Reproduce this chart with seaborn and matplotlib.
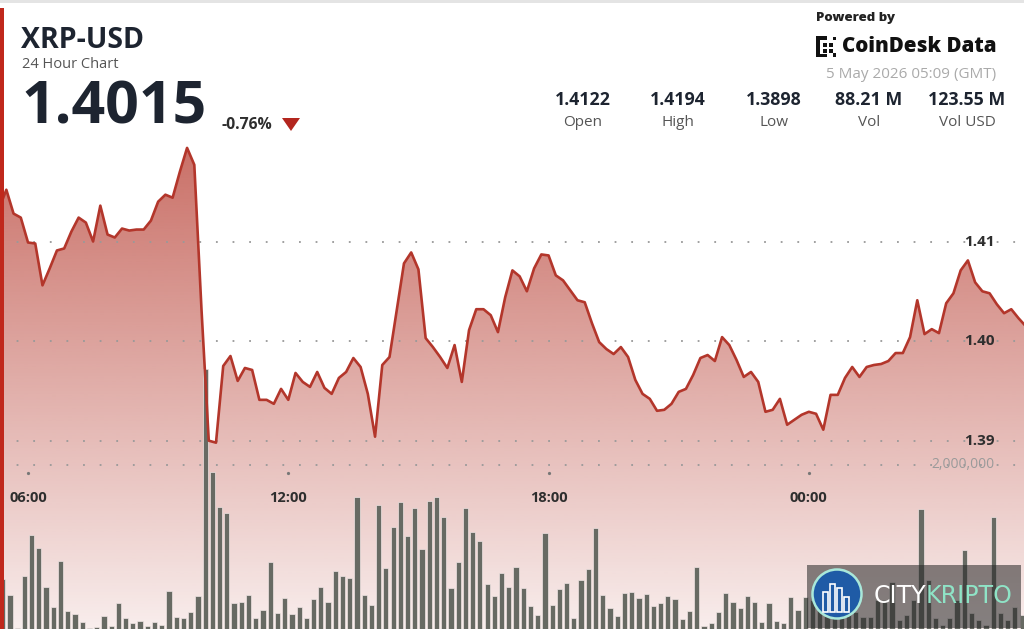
import numpy as np
import pandas as pd
import matplotlib
matplotlib.use("Agg")
import matplotlib.pyplot as plt
import seaborn as sns
from matplotlib.colors import to_rgb
from matplotlib.patches import Rectangle, Ellipse, Polygon, FancyBboxPatch
from matplotlib.transforms import blended_transform_factory

# ── DATA ──────────────────────────────────────────────────────────────────────
# XRP-USD, one sample every 10 minutes, first sample at 05:20
price = [
    1.4133, 1.4152, 1.4128, 1.4124, 1.4099, 1.4098, 1.4056, 1.4073, 1.4091, 1.4093,
    1.4110, 1.4124, 1.4119, 1.4100, 1.4136, 1.4107, 1.4104, 1.4113, 1.4111, 1.4112,
    1.4112, 1.4121, 1.4140, 1.4147, 1.4144, 1.4170, 1.4194, 1.4177, 1.4031, 1.3900,
    1.3898, 1.3975, 1.3985, 1.3960, 1.3973, 1.3971, 1.3941, 1.3941, 1.3937, 1.3952,
    1.3941, 1.3968, 1.3959, 1.3954, 1.3969, 1.3953, 1.3947, 1.3963, 1.3969, 1.3983,
    1.3974, 1.3947, 1.3904, 1.3976, 1.3984, 1.4031, 1.4078, 1.4089, 1.4072, 1.4003,
    1.3994, 1.3984, 1.3973, 1.3996, 1.3959, 1.4011, 1.4032, 1.4032, 1.4026, 1.4009,
    1.4044, 1.4071, 1.4065, 1.4050, 1.4073, 1.4087, 1.4086, 1.4066, 1.4061, 1.4051,
    1.4041, 1.4039, 1.4018, 1.3999, 1.3992, 1.3987, 1.3994, 1.3984, 1.3961, 1.3947,
    1.3942, 1.3930, 1.3931, 1.3937, 1.3949, 1.3952, 1.3966, 1.3983, 1.3986, 1.3980,
    1.4004, 1.3996, 1.3981, 1.3964, 1.3969, 1.3959, 1.3929, 1.3931, 1.3942, 1.3916,
    1.3921, 1.3926, 1.3929, 1.3927, 1.3911, 1.3946, 1.3946, 1.3963, 1.3974, 1.3964,
    1.3974, 1.3976, 1.3977, 1.3980, 1.3988, 1.3988, 1.4004, 1.4041, 1.4007, 1.4012,
    1.4008, 1.4038, 1.4048, 1.4071, 1.4081, 1.4059, 1.4050, 1.4048, 1.4037, 1.4028,
    1.4032, 1.4023, 1.4015,
]

# volume per 10-minute bar, in thousands of XRP
volume_k = [
    476, 606, 415, 12, 646, 1143, 984, 509, 272, 833,
    220, 183, 89, 12, 28, 162, 37, 313, 138, 70,
    101, 37, 89, 49, 467, 150, 138, 204, 406, 3171,
    1918, 1491, 1411, 313, 326, 415, 130, 232, 813, 191,
    374, 179, 265, 130, 362, 516, 326, 707, 646, 618,
    1606, 411, 289, 1512, 740, 1248, 1545, 1138, 1472, 976,
    1561, 1613, 1362, 496, 821, 1472, 1179, 1077, 549, 402,
    679, 516, 752, 496, 280, 171, 1174, 293, 488, 557,
    130, 598, 732, 1228, 415, 260, 162, 443, 455, 374,
    427, 284, 321, 406, 362, 122, 220, 752, 40, 70,
    211, 435, 326, 252, 402, 326, 82, 313, 98, 70,
    394, 232, 387, 354, 232, 171, 207, 232, 171, 207,
    150, 150, 354, 354, 577, 110, 171, 354, 1460, 598,
    130, 49, 130, 354, 963, 191, 110, 49, 1370, 191,
    110, 272, 171,
]

time_ticks = [40, 400, 760, 1120]          # minutes after 05:20
time_labels = ["06:00", "12:00", "18:00", "00:00"]
price_ticks = [1.41, 1.40, 1.39]
volume_tick = 2_000_000

stat_values = ["1.4122", "1.4194", "1.3898", "88.21 M", "123.55 M"]
stat_names = ["Open", "High", "Low", "Vol", "Vol USD"]

df = pd.DataFrame({
    "minute": np.arange(len(price)) * 10,
    "price": price,
    "volume": np.array(volume_k) * 1000,
})
df["bar_minute"] = df["minute"] - 5

# ── STYLE ─────────────────────────────────────────────────────────────────────
sns.set_theme(style="white")
plt.rcParams["font.family"] = ["Open Sans", "DejaVu Sans"]

W, H = 1024, 629
LINE_RED = "#b3362b"
DARK = "#1d2430"
GRID = dict(color="#999999", lw=1.3, ls=(0, (1, 8.2)))
XLIM = (1.245, 1417.6)
YLIM = (1.37109, 1.43425)
VOL_TOP = volume_tick * H / 164


def fx(x):
    return x / W


def fy(y):
    return 1 - y / H


fig = plt.figure(figsize=(W / 100, H / 100), dpi=100, facecolor="#e4e4e4")

# white card behind everything
fig.patches.append(FancyBboxPatch((fx(-20), fy(700)), fx(1045) - fx(-20), fy(3) - fy(700),
                                  boxstyle="round,pad=0,rounding_size=0.014",
                                  transform=fig.transFigure, facecolor="white",
                                  edgecolor="none", zorder=-5))

ax = fig.add_axes([0, 0, 1, 1], zorder=1)
ax_vol = fig.add_axes([0, 0, 1, 1], zorder=2)
ax_top = fig.add_axes([0, 0, 1, 1], zorder=3)
for a in (ax, ax_vol, ax_top):
    a.patch.set_visible(False)

# ── PRICE AREA (gradient clipped to area under line) ─────────────────────────
poly = ax.fill_between(df["minute"], df["price"], YLIM[0], color="none", lw=0)
n = 300
ypix = np.linspace(0, H, n)
alpha = np.clip(0.72 - (ypix - 146) * (0.63 / 483), 0.08, 0.95)
rgba = np.zeros((n, 1, 4))
rgba[..., :3] = to_rgb("#b5382c")
rgba[:, 0, 3] = alpha
im = ax.imshow(rgba, extent=[XLIM[0], XLIM[1], YLIM[0], YLIM[1]],
               aspect="auto", origin="upper", zorder=1, interpolation="bilinear")
im.set_clip_path(poly.get_paths()[0], transform=ax.transData)

for p in price_ticks:
    ax.axhline(p, zorder=2, **GRID)

# ── VOLUME BARS ───────────────────────────────────────────────────────────────
ax_vol.axhline(volume_tick, zorder=0, **GRID)
sns.barplot(data=df, x="bar_minute", y="volume", native_scale=True, width=0.72,
            color="#676a63", saturation=1, edgecolor="#efe4e3", linewidth=0.5,
            ax=ax_vol)

# ── PRICE LINE ────────────────────────────────────────────────────────────────
sns.lineplot(data=df, x="minute", y="price", ax=ax_top, color=LINE_RED,
             linewidth=1.9)

for a in (ax, ax_top):
    a.set_xlim(*XLIM)
    a.set_ylim(*YLIM)
ax_vol.set_xlim(*XLIM)
ax_vol.set_ylim(0, VOL_TOP)
for a in (ax, ax_vol, ax_top):
    a.axis("off")

# price labels on the right
tr_price = blended_transform_factory(fig.transFigure, ax_top.transData)
for p in price_ticks:
    ax_top.text(fx(995), p, f"{p:.2f}", transform=tr_price, ha="right",
                va="center", fontsize=11, fontweight="bold", color="#2e2e2e")
tr_vol = blended_transform_factory(fig.transFigure, ax_vol.transData)
ax_vol.text(fx(995), volume_tick, f"{volume_tick:,}", transform=tr_vol,
            ha="right", va="center", fontsize=10, color="#9a9a9a")

# time labels
tr_time = blended_transform_factory(ax_top.transData, fig.transFigure)
for t, lab in zip(time_ticks, time_labels):
    ax_top.text(t, fy(497.5), lab, transform=tr_time, ha="center", va="center",
                fontsize=10.5, fontweight="bold", color="#2e2e2e")
    ax_top.plot([t], [fy(472.5)], transform=tr_time, marker="o", ms=1.3,
                color="#777777", clip_on=False)

# ── HEADER ────────────────────────────────────────────────────────────────────
fig.text(fx(21), fy(40), "XRP-USD", fontsize=20.5, fontweight="bold",
         color=DARK, va="center", ha="left")
fig.text(fx(22), fy(64), "24 Hour Chart", fontsize=10.5, color="#555555",
         va="center", ha="left")
fig.text(fx(21), fy(108), f"{price[-1]:.4f}", fontsize=42.5, fontweight="bold",
         color=DARK, va="center", ha="left")
fig.text(fx(222), fy(125), "-0.76%", fontsize=11.3, fontweight="bold",
         color="#2e2e2e", va="center", ha="left")
fig.patches.append(Polygon([(fx(282), fy(118)), (fx(300), fy(118)), (fx(291), fy(131))],
                           closed=True, transform=fig.transFigure,
                           facecolor="#b3261e", edgecolor="none", zorder=5))

stat_x = [582.5, 678, 774, 869, 967]
for x, v, lab in zip(stat_x, stat_values, stat_names):
    fig.text(fx(x), fy(100), v, fontsize=12.8, fontweight="bold", color=DARK,
             ha="center", va="center")
    fig.text(fx(x), fy(123), lab, fontsize=11, color="#555555",
             ha="center", va="center")

fig.text(fx(816), fy(18), "Powered by", fontsize=9.5, fontweight="heavy",
         color="#222222", ha="left", va="center")
fig.text(fx(842), fy(47), "CoinDesk Data", fontsize=14.8, fontweight="heavy",
         color="#111111", ha="left", va="center")
# rough CoinDesk mark
for (x0, y0, w, h) in [(816, 36, 3.5, 21), (816, 36, 11, 3.5), (816, 53.5, 11, 3.5),
                       (823, 43, 3.5, 3.5), (829, 43, 3.5, 3.5), (829, 49, 3.5, 3.5),
                       (823, 49, 3.5, 3.5), (833, 37, 3, 3), (833, 53.5, 3, 3)]:
    fig.patches.append(Rectangle((fx(x0), fy(y0 + h)), w / W, h / H,
                                 transform=fig.transFigure, facecolor="#111111",
                                 edgecolor="none", zorder=5))
fig.text(fx(996), fy(75), "5 May 2026 05:09 (GMT)", fontsize=11,
         color="#aaaaaa", ha="right", va="center")

# left red edge
fig.patches.append(Rectangle((0, 0), 3.5 / W, fy(8), transform=fig.transFigure,
                             facecolor="#c0281c", edgecolor="none", zorder=10))

# ── CITYKRIPTO WATERMARK ──────────────────────────────────────────────────────
fig.patches.append(Rectangle((fx(807), fy(628)), 214 / W, 63 / H,
                             transform=fig.transFigure, facecolor="#262626",
                             alpha=0.55, edgecolor="none", zorder=10))
fig.patches.append(Ellipse((fx(837), fy(594)), 49 / W, 49 / H,
                           transform=fig.transFigure, facecolor="#1f5ba6",
                           edgecolor="#a9e8da", lw=1.8, zorder=11))
for (x0, top) in [(823, 592), (830, 584), (837, 588), (844, 597)]:
    fig.patches.append(Rectangle((fx(x0), fy(612)), 5 / W, (612 - top) / H,
                                 transform=fig.transFigure, facecolor="none",
                                 edgecolor="white", lw=1.2, zorder=12))
fig.text(fx(926), fy(596), "CITY", fontsize=17, color="white", ha="right",
         va="center", zorder=13, family="DejaVu Sans")
fig.text(fx(926), fy(596), "KRIPTO", fontsize=17, color="#8fe3c6", ha="left",
         va="center", zorder=13, family="DejaVu Sans")

fig.savefig("out.png", dpi=100, facecolor=fig.get_facecolor())
